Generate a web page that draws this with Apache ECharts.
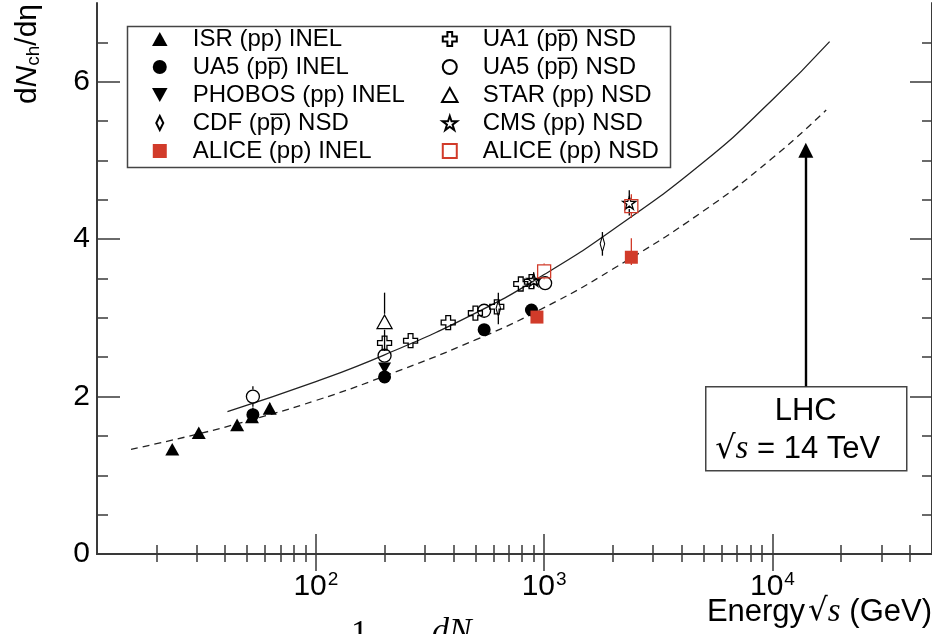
<!DOCTYPE html>
<html>
<head>
<meta charset="utf-8">
<script src="https://cdn.jsdelivr.net/npm/echarts@6/dist/echarts.min.js"></script>
<style>
  html, body { margin: 0; padding: 0; background: #fff; }
  #chart { width: 932px; height: 634px; }
</style>
</head>
<body>
<div id="chart"></div>
<script>
// axis ranges and ticks
const xMin = 11;
const xMax = 50000;
const xMajorTicks = [100, 1000, 10000];
const xMinorTicks = [20, 30, 40, 50, 60, 70, 80, 90, 200, 300, 400, 500, 600, 700, 800, 900,
  2000, 3000, 4000, 5000, 6000, 7000, 8000, 9000, 20000, 30000, 40000];
const yMin = 0;
const yMax = 7;
const yMajorTicks = [0, 2, 4, 6];
const yMinorTicks = [0.5, 1, 1.5, 2.5, 3, 3.5, 4.5, 5, 5.5, 6.5];

// [energy GeV, dN/deta, err down, err up]
const isrInel = [[23.5, 1.33, 0, 0], [30.7, 1.54, 0, 0], [45.2, 1.64, 0, 0], [52.5, 1.74, 0, 0], [62.8, 1.85, 0.07, 0.07]];
const ua5Inel = [[53, 1.77, 0.09, 0.09], [200, 2.25, 0, 0], [546, 2.85, 0, 0], [880, 3.10, 0, 0]];
const phobosInel = [[200, 2.36, 0, 0]];
const cdfNsd = [[630, 3.12, 0.2, 0.2], [1800, 3.94, 0.15, 0.15]];
const aliceInel = [[930, 3.01, 0, 0], [2410, 3.77, 0.1, 0.24]];
const ua1Nsd = [[200, 2.68, 0, 0], [260, 2.71, 0, 0], [380, 2.94, 0, 0], [500, 3.06, 0, 0], [620, 3.14, 0, 0], [790, 3.43, 0, 0], [880, 3.46, 0, 0]];
const ua5Nsd = [[53, 2.0, 0.13, 0.13], [200, 2.52, 0, 0], [546, 3.09, 0, 0], [1010, 3.44, 0, 0]];
const starNsd = [[200, 2.95, 0.37, 0.37]];
const cmsNsd = [[900, 3.48, 0.1, 0.1], [2360, 4.46, 0.16, 0.16]];
const aliceNsd = [[1000, 3.59, 0.1, 0.1], [2410, 4.42, 0.15, 0.15]];

// fit curves
const nsdFit = [[41, 1.81], [100, 2.19], [200, 2.53], [500, 3.06], [1000, 3.55], [2000, 4.12], [5000, 4.98], [10000, 5.77], [17800, 6.51]];
const inelFit = [[15.5, 1.33], [30, 1.52], [50, 1.69], [100, 1.95], [200, 2.26], [500, 2.72], [1000, 3.13], [2000, 3.62], [5000, 4.36], [10000, 5.03], [17200, 5.64]];

// LHC arrow
const lhcEnergy = 14000;
const lhcArrow = [2.13, 5.13];

const legendLeft = ["ISR (pp) INEL", "UA5 (pp\u0305) INEL", "PHOBOS (pp) INEL", "CDF (pp\u0305) NSD", "ALICE (pp) INEL"];
const legendRight = ["UA1 (pp\u0305) NSD", "UA5 (pp\u0305) NSD", "STAR (pp) NSD", "CMS (pp) NSD", "ALICE (pp) NSD"];

const RED = "#d13b2a";
const FONT = "Liberation Sans, Helvetica, Arial, sans-serif";
const AXIS_COLOR = "#3a3a3a";

// path symbols keep their aspect in the legend too
const SYM_TRI = "path://M5,0L10,9L0,9Z";
const SYM_INVTRI = "path://M0,0L10,0L5,9Z";
const SYM_SQUARE = "path://M0,0H10V10H0Z";
const SYM_DIAMOND = "path://M4,0L8,8L4,16L0,8Z";
const SYM_CROSS = "path://M3.3,0H6.7V3.3H10V6.7H6.7V10H3.3V6.7H0V3.3H3.3Z";
const SYM_STAR = "path://M5,0L6.2,3.6L10,3.6L6.9,5.9L8.1,9.6L5,7.3L1.9,9.6L3.1,5.9L0,3.6L3.8,3.6Z";

function scatter(name, data, symbol, size, color, hollow) {
  return {
    name,
    type: "scatter",
    data,
    symbol,
    symbolSize: size,
    symbolKeepAspect: true,
    z: 5,
    itemStyle: hollow
      ? { color: "transparent", borderColor: color, borderWidth: 1.3, opacity: 1 }
      : { color, borderColor: color, borderWidth: 0, opacity: 1 },
    emphasis: { disabled: true },
  };
}

function errorBars(data, color, gap) {
  return {
    type: "custom",
    data,
    silent: true,
    z: 4,
    renderItem: (params, api) => {
      const x = api.value(0);
      const y = api.value(1);
      const c = api.coord([x, y]);
      const top = api.coord([x, y + api.value(3)]);
      const bot = api.coord([x, y - api.value(2)]);
      const children = [];
      if (c[1] - top[1] > gap) {
        children.push({ type: "line", shape: { x1: c[0], y1: top[1], x2: c[0], y2: c[1] - gap }, style: { stroke: color, lineWidth: 1.3 } });
      }
      if (bot[1] - c[1] > gap) {
        children.push({ type: "line", shape: { x1: c[0], y1: c[1] + gap, x2: c[0], y2: bot[1] }, style: { stroke: color, lineWidth: 1.3 } });
      }
      return { type: "group", children };
    },
  };
}

function xAxis(position, ticks, len, labels, line) {
  return {
    type: "log",
    logBase: 10,
    min: xMin,
    max: xMax,
    position,
    splitLine: { show: false },
    axisLine: { show: line, lineStyle: { color: AXIS_COLOR, width: 2 } },
    axisTick: { inside: true, length: len, customValues: ticks, lineStyle: { color: AXIS_COLOR, width: 1.5 } },
    axisLabel: labels
      ? {
          customValues: xMajorTicks,
          margin: 16,
          color: "#000",
          formatter: (v) => "{b|10}{e|" + Math.round(Math.log10(v)) + "}",
          rich: {
            b: { fontSize: 30, fontFamily: FONT, color: "#000" },
            e: { fontSize: 19, fontFamily: FONT, color: "#000", padding: [0, 0, 14, 1] },
          },
        }
      : { show: false },
  };
}

function yAxis(position, ticks, len, labels, line) {
  return {
    type: "value",
    min: yMin,
    max: yMax,
    position,
    splitLine: { show: false },
    axisLine: { show: line, lineStyle: { color: AXIS_COLOR, width: 2 } },
    axisTick: { inside: true, length: len, customValues: ticks, lineStyle: { color: AXIS_COLOR, width: 1.5 } },
    axisLabel: labels
      ? { customValues: yMajorTicks, margin: 7, fontSize: 30, fontFamily: FONT, color: "#000" }
      : { show: false },
  };
}

const chart = echarts.init(document.getElementById("chart"), null, { renderer: "canvas" });

const series = [
  {
    name: "NSD fit",
    type: "line",
    data: nsdFit,
    smooth: true,
    showSymbol: false,
    silent: true,
    z: 2,
    lineStyle: { color: "#222", width: 1.3 },
    markLine: {
      silent: true,
      symbol: ["none", "triangle"],
      symbolSize: 15,
      label: { show: false },
      lineStyle: { color: "#000", width: 2.4, type: "solid" },
      data: [[{ coord: [lhcEnergy, lhcArrow[0]] }, { coord: [lhcEnergy, lhcArrow[1]] }]],
    },
  },
  {
    name: "INEL fit",
    type: "line",
    data: inelFit,
    smooth: true,
    showSymbol: false,
    silent: true,
    z: 2,
    lineStyle: { color: "#222", width: 1.3, type: [7, 5] },
  },
  errorBars(isrInel, "#000", 0),
  errorBars(ua5Inel, "#000", 0),
  errorBars(cdfNsd, "#000", 8),
  errorBars(aliceInel, RED, 0),
  errorBars(ua5Nsd, "#000", 7),
  errorBars(starNsd, "#000", 8),
  errorBars(cmsNsd, "#000", 6),
  errorBars(aliceNsd, RED, 7),
  scatter(legendLeft[0], isrInel, SYM_TRI, 14, "#000", false),
  scatter(legendLeft[1], ua5Inel, "circle", 13, "#000", false),
  scatter(legendLeft[2], phobosInel, SYM_INVTRI, 13, "#000", false),
  scatter(legendLeft[3], cdfNsd, SYM_DIAMOND, [9, 16], "#000", true),
  scatter(legendLeft[4], aliceInel, SYM_SQUARE, 13, RED, false),
  scatter(legendRight[0], ua1Nsd, SYM_CROSS, 14, "#000", true),
  scatter(legendRight[1], ua5Nsd, "circle", 13, "#000", true),
  scatter(legendRight[2], starNsd, SYM_TRI, 15, "#000", true),
  scatter(legendRight[3], cmsNsd, SYM_STAR, 13, "#000", true),
  scatter(legendRight[4], aliceNsd, SYM_SQUARE, 13, RED, true),
];

const legendBase = {
  orient: "vertical",
  top: 27,
  padding: 0,
  itemGap: 4,
  itemWidth: 56,
  itemHeight: 14,
  selectedMode: false,
  textStyle: { fontSize: 24, fontFamily: FONT, color: "#000", lineHeight: 24 },
};

chart.setOption({
  animation: false,
  backgroundColor: "#fff",
  grid: { left: 97, right: 0, top: 3, bottom: 80, containLabel: false },
  xAxis: [
    xAxis("bottom", xMajorTicks, 20, true, true),
    xAxis("bottom", xMinorTicks, 9, false, false),
    xAxis("top", xMajorTicks, 17, false, true),
    xAxis("top", xMinorTicks, 8, false, false),
  ],
  yAxis: [
    yAxis("left", yMajorTicks, 23, true, true),
    yAxis("left", yMinorTicks, 11, false, false),
    yAxis("right", yMajorTicks, 22, false, true),
    yAxis("right", yMinorTicks, 10, false, false),
  ],
  legend: [
    Object.assign({}, legendBase, { left: 152, data: legendLeft }),
    Object.assign({}, legendBase, { left: 441, data: legendRight }),
  ],
  series,
  graphic: [
    {
      type: "rect",
      left: 125,
      top: 24,
      shape: { width: 543, height: 141 },
      style: { fill: "none", stroke: "#444", lineWidth: 1.5 },
      z: 0,
    },
    {
      type: "group",
      left: 705,
      top: 386,
      children: [
        { type: "rect", shape: { x: 0, y: 0, width: 201, height: 84 }, style: { fill: "#fff", stroke: "#444", lineWidth: 1.5 } },
        { type: "text", x: 100, y: 25, style: { text: "LHC", font: "31px " + FONT, fill: "#000", align: "center", verticalAlign: "middle" } },
        {
          type: "text",
          x: 92,
          y: 63,
          style: {
            text: "{r|\u221a}{s|s}{t| = 14 TeV}",
            align: "center",
            verticalAlign: "middle",
            rich: {
              r: { fontSize: 32, fontFamily: "DejaVu Sans", fill: "#000" },
              s: { fontSize: 33, fontFamily: "Liberation Serif", fontStyle: "italic", fill: "#000" },
              t: { fontSize: 31, fontFamily: FONT, fill: "#000" },
            },
          },
        },
      ],
    },
    {
      type: "text",
      x: 28,
      y: 4,
      rotation: Math.PI / 2,
      style: {
        text: "{a|d}{n|N}{s|ch}{a|/d\u03b7}",
        align: "right",
        verticalAlign: "middle",
        rich: {
          a: { fontSize: 30, fontFamily: FONT, fill: "#000" },
          n: { fontSize: 30, fontFamily: FONT, fontStyle: "italic", fill: "#000" },
          s: { fontSize: 19, fontFamily: FONT, fill: "#000", padding: [12, 0, 0, 0] },
        },
      },
    },
    {
      type: "text",
      x: 932,
      y: 612,
      style: {
        text: "{t|Energy}{r|\u221a}{s|s}{t| (GeV)}",
        align: "right",
        verticalAlign: "middle",
        rich: {
          t: { fontSize: 31, fontFamily: FONT, fill: "#000" },
          r: { fontSize: 31, fontFamily: "DejaVu Sans", fill: "#000", padding: [0, 0, 0, 3] },
          s: { fontSize: 33, fontFamily: "Liberation Serif", fontStyle: "italic", fill: "#000" },
        },
      },
    },
    {
      type: "text",
      x: 351,
      y: 617,
      style: { text: "1", font: "34px Liberation Serif", fill: "#000", verticalAlign: "top" },
    },
    {
      type: "text",
      x: 432,
      y: 615,
      style: { text: "dN", font: "italic 34px Liberation Serif", fill: "#000", verticalAlign: "top" },
    },
  ],
});
</script>
</body>
</html>
